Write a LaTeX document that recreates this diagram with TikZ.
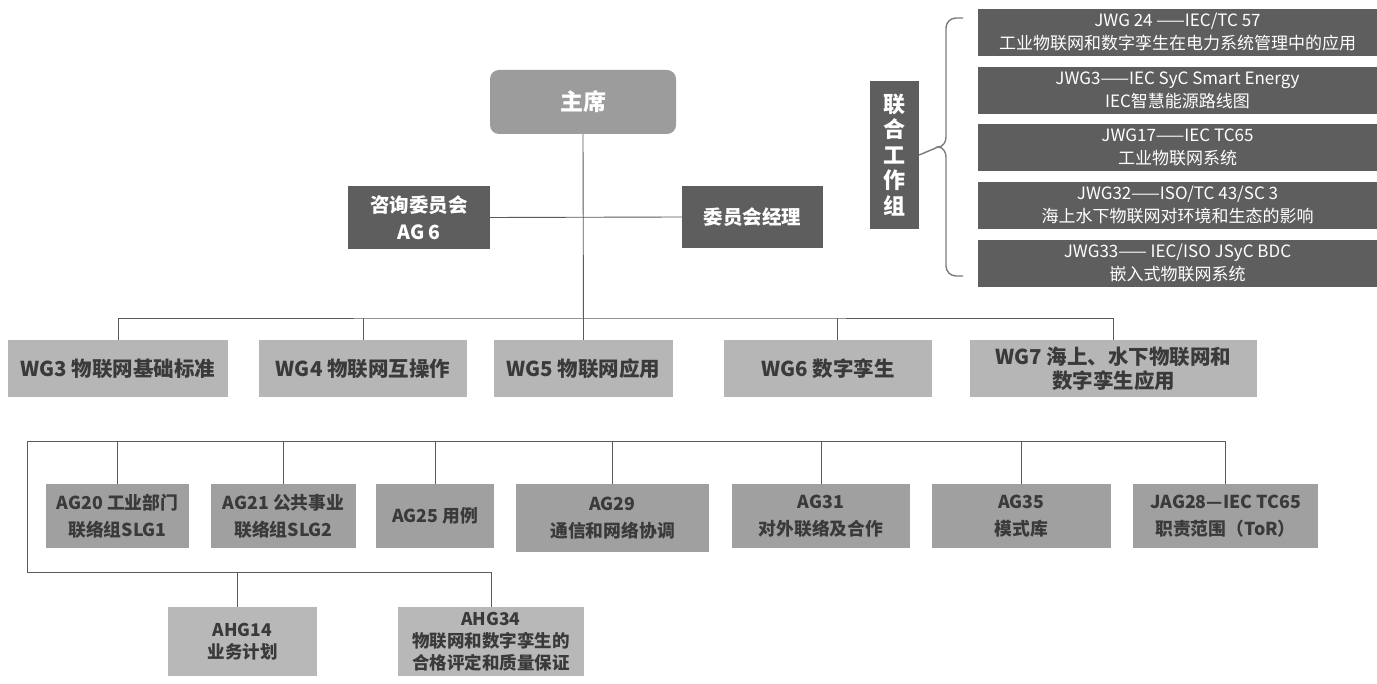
\documentclass[tikz,border=0pt]{standalone}
\usepackage{fontspec}
\newfontfamily\cjk{Noto Sans CJK SC}
\definecolor{darkbox}{HTML}{5E5E5E}
\definecolor{chairbox}{HTML}{9C9C9C}
\definecolor{wgbox}{HTML}{B6B6B6}
\definecolor{agbox}{HTML}{A0A0A0}
\definecolor{ahgbox}{HTML}{B8B8B8}
\definecolor{txtdark}{HTML}{3A3A3A}
\definecolor{linec}{HTML}{5A5A5A}
\tikzset{
  base/.style={inner sep=0pt, align=center, anchor=center},
  chairstyle/.style={base, fill=chairbox, text=white, rounded corners=9pt, font=\cjk\bfseries\fontsize{23}{27}\selectfont},
  darkstyle/.style={base, fill=darkbox, text=white, font=\cjk\bfseries\fontsize{19.5}{27}\selectfont},
  wgstyle/.style={base, fill=wgbox, text=txtdark, minimum height=57pt, font=\cjk\bfseries\fontsize{20.5}{24}\selectfont},
  agstyle/.style={base, fill=agbox, text=txtdark, font=\cjk\bfseries\fontsize{17.8}{27}\selectfont},
  ahgstyle/.style={base, fill=ahgbox, text=txtdark, minimum height=69pt, font=\cjk\bfseries\fontsize{17.5}{22}\selectfont},
  jwgstyle/.style={base, fill=darkbox, text=white, minimum width=399pt, minimum height=47pt, font=\cjk\fontsize{17}{23}\selectfont},
  conn/.style={draw=linec, line width=0.9pt},
  bracestyle/.style={draw=linec!80, line width=1.4pt}
}
\begin{document}
\begin{tikzpicture}[x=1pt,y=-1pt]
\useasboundingbox[fill=white] (0,0) rectangle (1377,684);

% top
\node[chairstyle, minimum width=186pt, minimum height=64pt] (chair) at (583,102) {主席};
\node[darkstyle, minimum width=142pt, minimum height=63pt] (ag6) at (419,217.5) {咨询委员会\\AG 6};
\node[darkstyle, minimum width=141pt, minimum height=62pt] (mgr) at (752.5,217) {委员会经理};

% WG row
\node[wgstyle, minimum width=220pt] (wg3) at (118,368.5) {WG3 物联网基础标准};
\node[wgstyle, minimum width=208pt] (wg4) at (363,368.5) {WG4 物联网互操作};
\node[wgstyle, minimum width=179pt] (wg5) at (583.5,368.5) {WG5 物联网应用};
\node[wgstyle, minimum width=208pt] (wg6) at (828,368.5) {WG6 数字孪生};
\node[wgstyle, minimum width=287pt] (wg7) at (1113.5,368.5) {WG7 海上、水下物联网和\\数字孪生应用};

% AG row
\node[agstyle, minimum width=143pt, minimum height=64pt] (ag20) at (117.5,516) {AG20 工业部门\\联络组SLG1};
\node[agstyle, minimum width=145pt, minimum height=64pt] (ag21) at (283.5,516) {AG21 公共事业\\联络组SLG2};
\node[agstyle, minimum width=118pt, minimum height=64pt] (ag25) at (435,516) {AG25 用例};
\node[agstyle, minimum width=193pt, minimum height=68pt] (ag29) at (612.5,518) {AG29\\通信和网络协调};
\node[agstyle, minimum width=178pt, minimum height=64pt] (ag31) at (821,516) {AG31\\对外联络及合作};
\node[agstyle, minimum width=179pt, minimum height=64pt] (ag35) at (1021.5,516) {AG35\\模式库};
\node[agstyle, minimum width=185pt, minimum height=64pt] (jag28) at (1225.5,516) {JAG28—IEC TC65\\职责范围（ToR）};

% AHG row
\node[ahgstyle, minimum width=149pt] (ahg14) at (242.5,641.5) {AHG14\\业务计划};
\node[ahgstyle, minimum width=186pt] (ahg34) at (491,641.5) {AHG34\\物联网和数字孪生的\\合格评定和质量保证};

% joint working groups
\node[darkstyle, minimum width=49pt, minimum height=148pt, font=\cjk\bfseries\fontsize{22}{25.5}\selectfont] (joint) at (894.5,155) {联\\合\\工\\作\\组};
\node[jwgstyle] (jwg24) at (1177.5,32.5) {JWG 24 ——IEC/TC 57\\工业物联网和数字孪生在电力系统管理中的应用};
\node[jwgstyle] (jwg3) at (1177.5,90.5) {JWG3——IEC SyC Smart Energy\\IEC智慧能源路线图};
\node[jwgstyle] (jwg17) at (1177.5,147.5) {JWG17——IEC TC65\\工业物联网系统};
\node[jwgstyle] (jwg32) at (1177.5,205.5) {JWG32——ISO/TC 43/SC 3\\海上水下物联网对环境和生态的影响};
\node[jwgstyle] (jwg33) at (1177.5,263.5) {JWG33—— IEC/ISO JSyC BDC\\嵌入式物联网系统};

% brace
\coordinate (cusp) at (938,147);
\draw[bracestyle] (963,18) -- (956,18) to[out=180,in=90] (946,28) -- (946,137) to[out=-90,in=0] (cusp) to[out=0,in=90] (946,157) -- (946,266) to[out=-90,in=180] (956,276) -- (963,276);
\draw[bracestyle] (joint.east) -- (cusp);

% connectors top
\coordinate (wgbar) at (584,318);
\draw[conn] (chair.south) -- (wg5.north);
\draw[conn] (ag6.east) -- (mgr.west);
\draw[conn] (wg3.north) |- (wgbar) -| (wg7.north);
\draw[conn] (wg4.north) -- (wg4.north |- wgbar);
\draw[conn] ([xshift=9pt]wg6.north) -- ([xshift=9pt]wg6.north |- wgbar);

% AG connectors
\coordinate (agbar) at (27,441);
\coordinate (ahgbar) at (27,572);
\draw[conn] (jag28.north) |- (agbar) -- (ahgbar) -| (ahg34.north);
\foreach \n in {ag20,ag21,ag25,ag29,ag31,ag35}
  \draw[conn] (\n.north) -- (\n.north |- agbar);
\draw[conn] ([xshift=-5.5pt]ahg14.north) -- ([xshift=-5.5pt]ahg14.north |- ahgbar);
\end{tikzpicture}
\end{document}
